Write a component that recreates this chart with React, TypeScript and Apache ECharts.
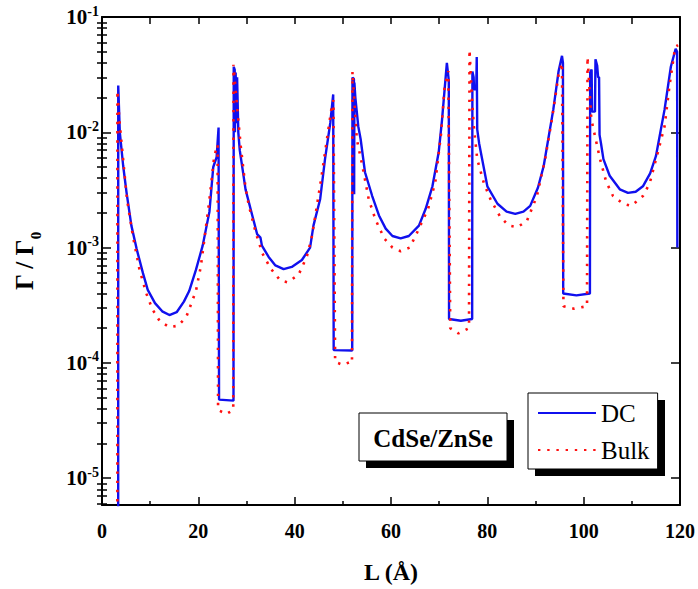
import React, { useEffect, useRef } from "react";
import * as echarts from "echarts";

// ---- data (L in Å, Γ/Γ0) ----
const dcL = [
  3.36, 3.37, 3.7, 4.4, 5.1, 6.1, 7.2, 8.5, 9.5, 11.0, 12.5, 14.0, 15.5, 17.0, 18.1, 19.5, 20.9, 22.3, 23.1, 23.8, 24.2,
  24.3, 27.3, 27.35, 27.55, 27.6, 27.75, 27.9, 28.05, 28.3, 28.6, 29.8, 31.2, 32.2, 32.9, 33.2, 34.6, 36.0, 37.7, 39.4,
  41.5, 43.2, 43.9, 45.3, 46.3, 47.4, 48.0, 48.1, 51.95, 52.0, 52.3, 52.35, 52.4, 52.6, 53.2, 53.7, 54.6, 56.1, 57.5,
  58.9, 60.3, 62.0, 63.7, 65.8, 67.2, 68.6, 69.9, 70.6, 71.6, 72.0, 72.05, 74.5, 76.85, 76.9, 77.15, 77.25, 77.7, 77.8,
  77.9, 78.3, 80.0,
  82.1, 84.0, 85.8, 87.5, 88.9, 90.5, 91.7, 93.7, 94.8, 95.5, 95.7, 95.75, 98.5, 101.3, 101.35, 101.65, 101.75, 102.35,
  102.45, 102.8, 103.0, 103.2, 103.3, 103.6, 104.1, 105.4, 107.5, 109.2, 110.8, 112.3, 113.8, 115.0, 116.8, 118.1,
  119.1, 119.4, 119.45,
];
const dcG = [
  1e-6, 0.0254, 0.01, 0.0051, 0.003, 0.00155, 0.00097, 0.0006, 0.00043, 0.00033, 0.00028, 0.00026, 0.000275, 0.00034,
  0.00042, 0.00064, 0.00104, 0.00204, 0.005, 0.0061, 0.011,
  0.000048, 0.000047, 0.037, 0.035, 0.01, 0.033, 0.012, 0.03, 0.01, 0.007, 0.0032, 0.0019, 0.00131, 0.00122, 0.00104,
  0.00083, 0.0007, 0.00065, 0.00068,
  0.00078, 0.001, 0.00155, 0.00264, 0.00585, 0.0121, 0.0213, 0.000129, 0.000128, 0.0298, 0.029, 0.0029, 0.027, 0.02,
  0.0113, 0.0087, 0.0045, 0.0028, 0.0019,
  0.00146, 0.00126, 0.0012, 0.00126, 0.00155, 0.00217, 0.0034, 0.0067, 0.0129, 0.04, 0.028, 0.00024, 0.000232, 0.00024,
  0.0336, 0.03, 0.0236, 0.0236, 0.045,
  0.0106, 0.008, 0.0034,
  0.0024, 0.00205, 0.00196, 0.00205, 0.0023, 0.0033, 0.0051, 0.0158, 0.034, 0.046, 0.04, 0.0004, 0.000385, 0.0004,
  0.033, 0.035, 0.0151, 0.0151,
  0.043, 0.038, 0.03, 0.03, 0.0095, 0.008, 0.00585, 0.0042, 0.0032, 0.00298, 0.00305, 0.0034, 0.0044, 0.0062, 0.0158,
  0.037,
  0.053, 0.05, 0.001,
];
const bulkL = [
  3.19, 3.2, 3.6, 4.2, 5.2, 6.5, 7.8, 9.2, 10.5, 12.0, 14.0, 15.8, 17.5, 19.5, 20.5, 21.2, 22.3, 23.3, 24.0, 24.1, 25.8,
  27.25, 27.3, 28.1, 28.8, 29.8, 30.5, 31.9, 33.3, 35.0, 37.0, 38.5, 40.8, 42.5, 43.5, 44.3, 45.6, 46.7, 47.7, 48.05,
  48.4, 50.0, 51.6, 51.9, 52.0, 52.9, 54.1, 55.4, 56.8, 58.6, 60.3, 62.0, 63.9, 65.6, 67.7, 69.2, 70.4, 71.1, 71.9,
  72.3, 74.0, 76.2, 76.3, 76.8, 77.2, 77.9, 79.3, 80.7, 82.7, 84.5, 86.2, 88.2, 90.3, 92.0, 93.4, 94.8, 95.5, 95.8, 98.0,
  100.7, 100.8, 101.6, 103.4, 104.7, 106.1, 108.2, 109.9, 112.3, 113.7, 115.4, 116.8, 117.8, 119.0, 119.6,
];
const bulkG = [
  1e-6, 0.023, 0.013, 0.007, 0.0026, 0.0012, 0.00064, 0.0004, 0.00029, 0.00023, 0.000204, 0.00021, 0.00025, 0.00042,
  0.00068, 0.00113, 0.0026, 0.0062, 0.0078, 0.000039, 0.000036,
  0.000039, 0.0385, 0.0158, 0.0076, 0.0033, 0.0023, 0.00136, 0.00089, 0.00066, 0.00052, 0.0005, 0.00058, 0.00083,
  0.0012, 0.0019, 0.0042, 0.0087, 0.0168, 0.019,
  0.000102, 0.000096, 0.000102, 0.0001, 0.0336, 0.0087, 0.005, 0.0026, 0.00174, 0.0012, 0.001, 0.00093, 0.001, 0.0014,
  0.00217, 0.0037, 0.0098, 0.024, 0.034,
  0.0002, 0.00018, 0.0002, 0.052, 0.02, 0.0113, 0.00585, 0.0036, 0.0026, 0.00184, 0.00155, 0.0015, 0.0017, 0.0028,
  0.00585, 0.0129, 0.0316, 0.04, 0.00031, 0.000295,
  0.00031, 0.045, 0.0129, 0.00585, 0.0037, 0.0028, 0.0024, 0.0023, 0.0028, 0.0036, 0.0067, 0.0113, 0.025, 0.055, 0.057,
];
const seriesNames = ["DC", "Bulk"];
const xTickLabels = [0, 20, 40, 60, 80, 100, 120];
const yDecadeExponents = [-5, -4, -3, -2, -1];
const yMinValue = 5.85e-6;
const yMaxValue = 0.1;
const sampleLabel = "CdSe/ZnSe";
const xTitle = "L (Å)";

const FONT = "'Liberation Serif', 'Times New Roman', serif";

export default function App() {
  const ref = useRef<HTMLDivElement>(null);

  useEffect(() => {
    if (!ref.current) return;
    const chart = echarts.init(ref.current, undefined, { renderer: "svg" });

    const yMin = Math.log10(yMinValue);
    const yMax = Math.log10(yMaxValue);
    const minorVals: number[] = [];
    for (let n = -6; n <= -2; n++) {
      for (let k = 2; k <= 9; k++) {
        const v = n + Math.log10(k);
        if (v > yMin && v < yMax) minorVals.push(v);
      }
    }

    const black = "#000";
    const yBase = {
      type: "value" as const,
      min: yMin,
      max: yMax,
      splitLine: { show: false },
    };

    const option: any = {
      animation: false,
      backgroundColor: "#fff",
      grid: { left: 102, right: 16, top: 17, bottom: 83, containLabel: false },
      xAxis: [
        {
          type: "value",
          min: xTickLabels[0],
          max: xTickLabels[xTickLabels.length - 1],
          interval: 20,
          position: "bottom",
          axisLine: { show: true, onZero: false, lineStyle: { color: black, width: 2 } },
          axisTick: { show: true, inside: true, length: 8, lineStyle: { color: black, width: 1.5 } },
          minorTick: { show: true, splitNumber: 2, length: 4, lineStyle: { color: black, width: 1.5 } },
          splitLine: { show: false },
          minorSplitLine: { show: false },
          axisLabel: {
            margin: 16,
            fontFamily: FONT,
            fontWeight: "bold",
            fontSize: 20,
            color: black,
          },
          name: xTitle,
          nameLocation: "middle",
          nameGap: 55,
          nameTextStyle: { fontFamily: FONT, fontWeight: "bold", fontSize: 24, color: black },
        },
        {
          type: "value",
          min: xTickLabels[0],
          max: xTickLabels[xTickLabels.length - 1],
          interval: 10,
          position: "top",
          axisLine: { show: true, onZero: false, lineStyle: { color: black, width: 2 } },
          axisTick: { show: true, inside: true, length: 7, lineStyle: { color: black, width: 1.5 } },
          axisLabel: { show: false },
          splitLine: { show: false },
        },
      ],
      yAxis: [
        {
          ...yBase,
          position: "left",
          axisLine: { show: true, onZero: false, lineStyle: { color: black, width: 2 } },
          axisTick: {
            show: true,
            inside: true,
            length: 9,
            customValues: yDecadeExponents,
            lineStyle: { color: black, width: 1.5 },
          },
          axisLabel: {
            show: true,
            customValues: yDecadeExponents,
            margin: 3,
            formatter: (v: number) => `{b|10}{s|${Math.round(v)}}`,
            rich: {
              b: { fontFamily: FONT, fontWeight: "bold", fontSize: 21, color: black, lineHeight: 20 },
              s: { fontFamily: FONT, fontWeight: "bold", fontSize: 14, color: black, padding: [0, 0, 12, 0] },
            },
          },
          name: "{m|Γ / Γ}{s|0}",
          nameLocation: "middle",
          nameRotate: 90,
          nameGap: 59,
          nameTextStyle: {
            rich: {
              m: { fontFamily: FONT, fontWeight: "bold", fontSize: 25, color: black, lineHeight: 30 },
              s: { fontFamily: FONT, fontWeight: "bold", fontSize: 15, color: black, padding: [22, 0, 0, 0] },
            },
          },
        },
        {
          ...yBase,
          position: "right",
          axisLine: { show: true, onZero: false, lineStyle: { color: black, width: 2 } },
          axisTick: {
            show: true,
            inside: true,
            length: 9,
            customValues: yDecadeExponents,
            lineStyle: { color: black, width: 1.5 },
          },
          axisLabel: { show: false, customValues: yDecadeExponents },
        },
        {
          ...yBase,
          position: "left",
          axisLine: { show: false },
          axisTick: {
            show: true,
            inside: true,
            length: 5,
            customValues: minorVals,
            lineStyle: { color: black, width: 1.5 },
          },
          axisLabel: { show: false, customValues: minorVals },
        },
        {
          ...yBase,
          position: "right",
          axisLine: { show: false },
          axisTick: {
            show: true,
            inside: true,
            length: 5,
            customValues: minorVals,
            lineStyle: { color: black, width: 1.5 },
          },
          axisLabel: { show: false, customValues: minorVals },
        },
      ],
      legend: {
        show: true,
        orient: "vertical",
        left: 528,
        top: 393,
        padding: [7, 8, 6, 9],
        itemGap: 11,
        itemWidth: 58,
        itemHeight: 14,
        backgroundColor: "#fff",
        borderColor: black,
        borderWidth: 1,
        borderRadius: 0,
        selectedMode: false,
        z: 10,
        data: seriesNames,
        itemStyle: { opacity: 0 },
        textStyle: { fontFamily: FONT, fontSize: 25, color: black, lineHeight: 26, padding: [0, 0, 0, 0] },
      },
      graphic: [
        {
          type: "rect",
          z: 5,
          shape: { x: 535, y: 400, width: 130, height: 76 },
          style: { fill: black },
          silent: true,
        },
        {
          type: "group",
          z: 10,
          children: [
            {
              type: "rect",
              shape: { x: 366, y: 420, width: 148, height: 48 },
              style: { fill: black },
            },
            {
              type: "rect",
              shape: { x: 359, y: 413, width: 148, height: 48 },
              style: { fill: "#fff", stroke: black, lineWidth: 1 },
            },
            {
              type: "text",
              x: 433,
              y: 438,
              style: {
                text: sampleLabel,
                fontFamily: FONT,
                fontWeight: "bold",
                fontSize: 25,
                fill: black,
                align: "center",
                verticalAlign: "middle",
              },
            },
          ],
        },
      ],
      series: [
        {
          name: seriesNames[0],
          type: "line",
          data: dcL.map((x, i) => [x, Math.log10(dcG[i])]),
          symbol: "none",
          showSymbol: false,
          clip: true,
          xAxisIndex: 0,
          yAxisIndex: 0,
          z: 3,
          lineStyle: { color: "#1010ee", width: 2.4 },
          itemStyle: { color: "#1010ee" },
        },
        {
          name: seriesNames[1],
          type: "line",
          data: bulkL.map((x, i) => [x, Math.log10(bulkG[i])]),
          symbol: "none",
          showSymbol: false,
          clip: true,
          xAxisIndex: 0,
          yAxisIndex: 0,
          z: 4,
          lineStyle: { color: "#ff1010", width: 2.6, type: [2.4, 6.8] },
          itemStyle: { color: "#ff1010" },
        },
      ],
    };

    chart.setOption(option);
    return () => chart.dispose();
  }, []);

  return (
    <div
      ref={ref}
      style={{ position: "fixed", left: 0, top: 0, width: 698, height: 589, background: "#fff" }}
    />
  );
}
